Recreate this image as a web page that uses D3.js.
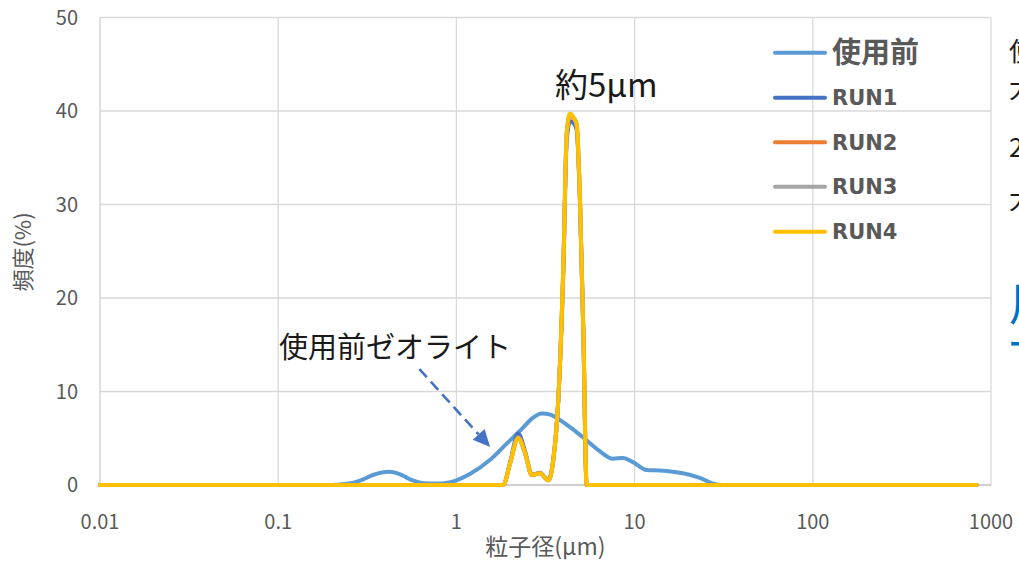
<!DOCTYPE html>
<html>
<head>
<meta charset="utf-8">
<script src="https://cdn.jsdelivr.net/npm/d3@7"></script>
<style>
  html, body { margin: 0; padding: 0; background: #fff; overflow: hidden; }
  svg { display: block; }
</style>
</head>
<body>
<svg id="chart" width="1019" height="561"></svg>
<script>
// Particle size distribution: zeolite before use and after runs 1-4

// 使用前 (before use)
const SIZE_BEFORE = [0.01, 0.20, 0.25, 0.30, 0.34, 0.42, 0.48, 0.55, 0.65, 0.80, 1.0, 1.19, 1.54, 1.92, 2.36, 2.65, 3.01, 3.40, 3.81, 4.40, 5.13, 6.39, 7.57, 8.61, 9.80, 11.7, 13.9, 18.7, 23.0, 27.6, 31.0, 830];
const FREQ_BEFORE = [0, 0, 0.15, 0.6, 1.07, 1.42, 1.17, 0.6, 0.2, 0.15, 0.5, 1.17, 2.67, 4.45, 6.1, 7.1, 7.65, 7.5, 6.95, 6.1, 5.1, 3.6, 2.8, 2.9, 2.45, 1.6, 1.55, 1.25, 0.8, 0.15, 0, 0];

// RUN1 - RUN4 share the same size bins
const SIZE_RUN = [0.01, 1.83, 2.0, 2.22, 2.43, 2.65, 2.94, 3.28, 3.50, 3.73, 3.98, 4.16, 4.34, 4.55, 4.73, 4.94, 5.16, 5.38, 830];
const FREQ_RUN1 = [0, 0, 2.4, 5.5, 3.6, 1.1, 1.3, 0.55, 2.8, 9.0, 22.8, 36.8, 38.9, 38.7, 38.0, 30.0, 16.0, 0, 0];
const FREQ_RUN2 = [0, 0, 2.3, 5.1, 3.4, 1.05, 1.25, 0.5, 2.7, 9.1, 23.2, 37.5, 39.6, 39.2, 38.5, 30.3, 16.1, 0, 0];
const FREQ_RUN3 = [0, 0, 2.3, 5.05, 3.4, 1.07, 1.24, 0.5, 2.7, 9.1, 23.3, 37.6, 39.7, 39.3, 38.6, 30.4, 16.2, 0, 0];
const FREQ_RUN4 = [0, 0, 2.3, 5.0, 3.4, 1.07, 1.25, 0.5, 2.7, 9.1, 23.3, 37.6, 39.7, 39.3, 38.6, 30.4, 16.2, 0, 0];

const SERIES_NAMES = ["使用前", "RUN1", "RUN2", "RUN3", "RUN4"];
const SERIES_COLORS = ["#5B9BD5", "#4472C4", "#ED7D31", "#A5A5A5", "#FFC000"];

const X_TICKS = [0.01, 0.1, 1, 10, 100, 1000];
const X_TICK_LABELS = ["0.01", "0.1", "1", "10", "100", "1000"];
const Y_TICKS = [0, 10, 20, 30, 40, 50];

const X_TITLE = "粒子径(μm)";
const Y_TITLE = "頻度(%)";

const series = [
  { name: SERIES_NAMES[0], color: SERIES_COLORS[0], x: SIZE_BEFORE, y: FREQ_BEFORE },
  { name: SERIES_NAMES[1], color: SERIES_COLORS[1], x: SIZE_RUN, y: FREQ_RUN1 },
  { name: SERIES_NAMES[2], color: SERIES_COLORS[2], x: SIZE_RUN, y: FREQ_RUN2 },
  { name: SERIES_NAMES[3], color: SERIES_COLORS[3], x: SIZE_RUN, y: FREQ_RUN3 },
  { name: SERIES_NAMES[4], color: SERIES_COLORS[4], x: SIZE_RUN, y: FREQ_RUN4 }
];

const svg = d3.select("#chart");
const plot = { left: 100, right: 991, top: 17.5, bottom: 485 };

const x = d3.scaleLog().domain([0.01, 1000]).range([plot.left, plot.right]);
const y = d3.scaleLinear().domain([0, 50]).range([plot.bottom, plot.top]);

const CJK = "'Noto Sans CJK JP', 'Noto Sans', sans-serif";
const AXIS_GREY = "#595959";

// gridlines
const grid = svg.append("g");
grid.selectAll("line.h").data(Y_TICKS.filter(d => d > 0)).join("line")
  .attr("x1", plot.left).attr("x2", plot.right)
  .attr("y1", d => y(d)).attr("y2", d => y(d))
  .attr("stroke", "#D9D9D9").attr("stroke-width", 1.3);
grid.selectAll("line.v").data(X_TICKS.slice(1)).join("line")
  .attr("x1", d => x(d)).attr("x2", d => x(d))
  .attr("y1", plot.top).attr("y2", plot.bottom)
  .attr("stroke", "#D9D9D9").attr("stroke-width", 1.3);

// axis lines
svg.append("line")
  .attr("x1", plot.left).attr("x2", plot.left)
  .attr("y1", plot.top).attr("y2", plot.bottom)
  .attr("stroke", "#D0D0D0").attr("stroke-width", 1.3);
svg.append("line")
  .attr("x1", plot.left).attr("x2", plot.right)
  .attr("y1", plot.bottom).attr("y2", plot.bottom)
  .attr("stroke", "#BFBFBF").attr("stroke-width", 1.3);

// tick labels
svg.append("g").selectAll("text").data(Y_TICKS).join("text")
  .attr("x", 78).attr("y", d => y(d) + 7)
  .attr("text-anchor", "end")
  .attr("font-family", CJK).attr("font-size", 20).attr("fill", AXIS_GREY)
  .text(d => d);
svg.append("g").selectAll("text").data(X_TICKS).join("text")
  .attr("x", d => x(d)).attr("y", 529)
  .attr("text-anchor", "middle")
  .attr("font-family", CJK).attr("font-size", 20).attr("fill", AXIS_GREY)
  .text((d, i) => X_TICK_LABELS[i]);

// axis titles
svg.append("text")
  .attr("x", (plot.left + plot.right) / 2).attr("y", 555)
  .attr("text-anchor", "middle")
  .attr("font-family", CJK).attr("font-size", 23).attr("fill", AXIS_GREY)
  .text(X_TITLE);
svg.append("text")
  .attr("transform", "translate(31,252) rotate(-90)")
  .attr("text-anchor", "middle")
  .attr("font-family", CJK).attr("font-size", 22).attr("fill", AXIS_GREY)
  .text(Y_TITLE);

// distribution curves
const line = d3.line()
  .x(d => x(d[0]))
  .y(d => y(d[1]))
  .curve(d3.curveMonotoneX);

svg.append("g").selectAll("path").data(series).join("path")
  .attr("d", s => line(s.x.map((v, i) => [v, s.y[i]])))
  .attr("fill", "none")
  .attr("stroke", s => s.color)
  .attr("stroke-width", 4)
  .attr("stroke-linejoin", "round")
  .attr("stroke-linecap", "round");

// legend
const legend = svg.append("g");
const legendRows = [52.7, 97.7, 142.3, 186.7, 231.7];
series.forEach((s, i) => {
  const ly = legendRows[i];
  legend.append("line")
    .attr("x1", 775).attr("x2", 825).attr("y1", ly).attr("y2", ly)
    .attr("stroke", s.color).attr("stroke-width", 4).attr("stroke-linecap", "round");
  const t = legend.append("text")
    .attr("x", 832)
    .attr("fill", AXIS_GREY)
    .attr("font-weight", "bold")
    .text(s.name);
  if (i === 0) {
    t.attr("y", ly + 10.5).attr("font-family", CJK).attr("font-size", 29);
  } else {
    t.attr("y", ly + 7.5).attr("font-family", "'DejaVu Sans', sans-serif").attr("font-size", 21);
  }
});

// annotations
svg.append("text")
  .attr("x", x(3.57)).attr("y", y(41.45))
  .attr("font-family", CJK).attr("font-size", 33).attr("fill", "#1a1a1a")
  .text("約5μm");

svg.append("text")
  .attr("x", x(0.101)).attr("y", y(13.6))
  .attr("font-family", CJK).attr("font-size", 29).attr("fill", "#1a1a1a")
  .text("使用前ゼオライト");

// dashed arrow pointing at the before-use curve
const arrowStart = [0.62, 12.4];
const arrowTip = [1.545, 4.06];
const ax0 = x(arrowStart[0]), ay0 = y(arrowStart[1]);
const ax1 = x(arrowTip[0]), ay1 = y(arrowTip[1]);
const ang = Math.atan2(ay1 - ay0, ax1 - ax0);
const headLen = 17, headHalf = 8;
const bx = ax1 - headLen * Math.cos(ang), by = ay1 - headLen * Math.sin(ang);
svg.append("line")
  .attr("x1", ax0).attr("y1", ay0).attr("x2", bx).attr("y2", by)
  .attr("stroke", "#4472C4").attr("stroke-width", 2.6)
  .attr("stroke-dasharray", "11,6");
svg.append("path")
  .attr("d", `M${ax1},${ay1}L${bx - headHalf * Math.sin(ang)},${by + headHalf * Math.cos(ang)}L${bx + headHalf * Math.sin(ang)},${by - headHalf * Math.cos(ang)}Z`)
  .attr("fill", "#4472C4");

// side notes continuing past the right edge
const notes = [
  { text: "使用前は", y: 61, size: 26 },
  { text: "大きな粒子", y: 98, size: 26 },
  { text: "2回目以降", y: 157, size: 26 },
  { text: "大きさ", y: 209, size: 26 }
];
svg.append("g").selectAll("text").data(notes).join("text")
  .attr("x", 1009).attr("y", d => d.y)
  .attr("font-family", CJK).attr("font-size", d => d.size)
  .attr("fill", "#1a1a1a")
  .text(d => d.text);

// blue highlighted note: one text block, two lines
const blueNote = svg.append("text")
  .attr("x", 1009).attr("y", 320)
  .attr("font-family", CJK).attr("fill", "#0070C0");
blueNote.append("tspan").attr("font-size", 46).text("用途");
blueNote.append("tspan").attr("x", 1009).attr("dy", 33)
  .attr("font-size", 24).attr("font-weight", "bold").text("ー");
</script>
</body>
</html>
